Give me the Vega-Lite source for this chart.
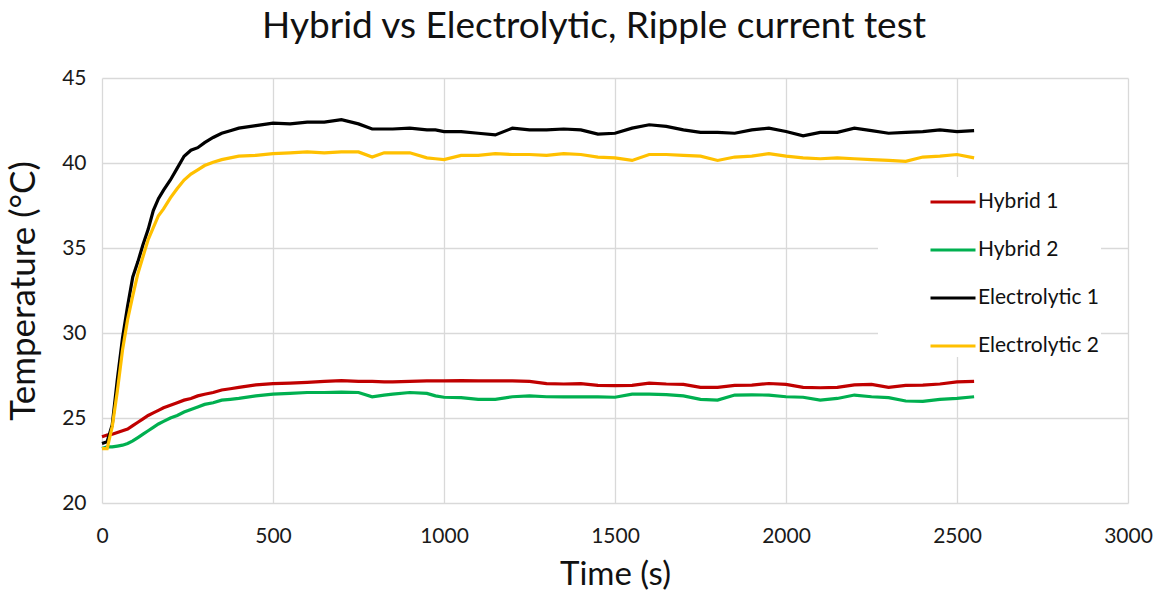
{
  "$schema": "https://vega.github.io/schema/vega-lite/v6.json",
  "autosize": "none",
  "padding": {"left": 102, "top": 78, "right": 35, "bottom": 104},
  "width": 1026,
  "height": 425,
  "background": "white",
  "title": {
    "text": "Hybrid vs Electrolytic, Ripple current test",
    "fontSize": 37,
    "font": "Lato",
    "fontWeight": "normal",
    "color": "#111111",
    "anchor": "middle",
    "baseline": "alphabetic",
    "offset": -8,
    "dx": -21
  },
  "config": {
    "font": "Lato",
    "view": {"stroke": null},
    "axis": {
      "gridColor": "#d9d9d9",
      "gridWidth": 1.3,
      "domain": false,
      "ticks": false,
      "labelFlush": false,
      "labelFontSize": 21,
      "labelColor": "#1a1a1a",
      "titleFontWeight": "normal",
      "titleColor": "#111111"
    },
    "legend": {
      "orient": "none",
      "legendX": 776,
      "legendY": 99,
      "fillColor": "white",
      "padding": 1,
      "symbolType": "stroke",
      "symbolSize": 2025,
      "symbolStrokeWidth": 3,
      "symbolOffset": 50,
      "labelFontSize": 21,
      "labelColor": "#111111",
      "labelOffset": 1,
      "rowPadding": 14
    }
  },
  "data": {
    "values": [
      {"t": 0, "Hybrid 1": 23.9, "Hybrid 2": 23.2, "Electrolytic 1": 23.5, "Electrolytic 2": 23.2},
      {"t": 15, "Hybrid 1": 24.0, "Hybrid 2": 23.3, "Electrolytic 1": 23.6, "Electrolytic 2": 23.2},
      {"t": 30, "Hybrid 1": 24.05, "Hybrid 2": 23.3, "Electrolytic 1": 24.6, "Electrolytic 2": 24.5},
      {"t": 45, "Hybrid 1": 24.15, "Hybrid 2": 23.35, "Electrolytic 1": 27.3, "Electrolytic 2": 26.6},
      {"t": 60, "Hybrid 1": 24.25, "Hybrid 2": 23.4, "Electrolytic 1": 29.7, "Electrolytic 2": 29.0},
      {"t": 75, "Hybrid 1": 24.35, "Hybrid 2": 23.5, "Electrolytic 1": 31.6, "Electrolytic 2": 30.8},
      {"t": 90, "Hybrid 1": 24.55, "Hybrid 2": 23.65, "Electrolytic 1": 33.3, "Electrolytic 2": 32.2},
      {"t": 105, "Hybrid 1": 24.75, "Hybrid 2": 23.85, "Electrolytic 1": 34.2, "Electrolytic 2": 33.5},
      {"t": 120, "Hybrid 1": 24.95, "Hybrid 2": 24.05, "Electrolytic 1": 35.2, "Electrolytic 2": 34.5},
      {"t": 135, "Hybrid 1": 25.15, "Hybrid 2": 24.25, "Electrolytic 1": 36.1, "Electrolytic 2": 35.5},
      {"t": 150, "Hybrid 1": 25.3, "Hybrid 2": 24.45, "Electrolytic 1": 37.2, "Electrolytic 2": 36.2},
      {"t": 165, "Hybrid 1": 25.45, "Hybrid 2": 24.65, "Electrolytic 1": 37.9, "Electrolytic 2": 36.9},
      {"t": 180, "Hybrid 1": 25.6, "Hybrid 2": 24.8, "Electrolytic 1": 38.4, "Electrolytic 2": 37.3},
      {"t": 200, "Hybrid 1": 25.75, "Hybrid 2": 25.0, "Electrolytic 1": 39.0, "Electrolytic 2": 37.95},
      {"t": 220, "Hybrid 1": 25.9, "Hybrid 2": 25.15, "Electrolytic 1": 39.7, "Electrolytic 2": 38.5},
      {"t": 240, "Hybrid 1": 26.05, "Hybrid 2": 25.35, "Electrolytic 1": 40.4, "Electrolytic 2": 39.0},
      {"t": 260, "Hybrid 1": 26.15, "Hybrid 2": 25.5, "Electrolytic 1": 40.75, "Electrolytic 2": 39.35},
      {"t": 280, "Hybrid 1": 26.3, "Hybrid 2": 25.65, "Electrolytic 1": 40.9, "Electrolytic 2": 39.6},
      {"t": 300, "Hybrid 1": 26.4, "Hybrid 2": 25.8, "Electrolytic 1": 41.2, "Electrolytic 2": 39.85},
      {"t": 325, "Hybrid 1": 26.5, "Hybrid 2": 25.9, "Electrolytic 1": 41.5, "Electrolytic 2": 40.05},
      {"t": 350, "Hybrid 1": 26.65, "Hybrid 2": 26.05, "Electrolytic 1": 41.75, "Electrolytic 2": 40.2},
      {"t": 375, "Hybrid 1": 26.72, "Hybrid 2": 26.1, "Electrolytic 1": 41.9, "Electrolytic 2": 40.3},
      {"t": 400, "Hybrid 1": 26.8, "Hybrid 2": 26.15, "Electrolytic 1": 42.05, "Electrolytic 2": 40.4},
      {"t": 450, "Hybrid 1": 26.95, "Hybrid 2": 26.3, "Electrolytic 1": 42.2, "Electrolytic 2": 40.45},
      {"t": 500, "Hybrid 1": 27.02, "Hybrid 2": 26.4, "Electrolytic 1": 42.35, "Electrolytic 2": 40.55},
      {"t": 550, "Hybrid 1": 27.05, "Hybrid 2": 26.45, "Electrolytic 1": 42.3, "Electrolytic 2": 40.6},
      {"t": 600, "Hybrid 1": 27.1, "Hybrid 2": 26.5, "Electrolytic 1": 42.4, "Electrolytic 2": 40.65},
      {"t": 650, "Hybrid 1": 27.15, "Hybrid 2": 26.5, "Electrolytic 1": 42.4, "Electrolytic 2": 40.6},
      {"t": 700, "Hybrid 1": 27.2, "Hybrid 2": 26.52, "Electrolytic 1": 42.55, "Electrolytic 2": 40.65},
      {"t": 750, "Hybrid 1": 27.15, "Hybrid 2": 26.5, "Electrolytic 1": 42.3, "Electrolytic 2": 40.65},
      {"t": 790, "Hybrid 1": 27.15, "Hybrid 2": 26.25, "Electrolytic 1": 42.0, "Electrolytic 2": 40.35},
      {"t": 825, "Hybrid 1": 27.12, "Hybrid 2": 26.35, "Electrolytic 1": 42.0, "Electrolytic 2": 40.6},
      {"t": 850, "Hybrid 1": 27.12, "Hybrid 2": 26.4, "Electrolytic 1": 42.0, "Electrolytic 2": 40.6},
      {"t": 900, "Hybrid 1": 27.15, "Hybrid 2": 26.5, "Electrolytic 1": 42.05, "Electrolytic 2": 40.6},
      {"t": 950, "Hybrid 1": 27.18, "Hybrid 2": 26.45, "Electrolytic 1": 41.95, "Electrolytic 2": 40.3},
      {"t": 975, "Hybrid 1": 27.18, "Hybrid 2": 26.3, "Electrolytic 1": 41.95, "Electrolytic 2": 40.25},
      {"t": 1000, "Hybrid 1": 27.18, "Hybrid 2": 26.22, "Electrolytic 1": 41.85, "Electrolytic 2": 40.2},
      {"t": 1050, "Hybrid 1": 27.2, "Hybrid 2": 26.2, "Electrolytic 1": 41.85, "Electrolytic 2": 40.45},
      {"t": 1100, "Hybrid 1": 27.18, "Hybrid 2": 26.1, "Electrolytic 1": 41.75, "Electrolytic 2": 40.45},
      {"t": 1150, "Hybrid 1": 27.18, "Hybrid 2": 26.1, "Electrolytic 1": 41.65, "Electrolytic 2": 40.55},
      {"t": 1200, "Hybrid 1": 27.18, "Hybrid 2": 26.25, "Electrolytic 1": 42.05, "Electrolytic 2": 40.5},
      {"t": 1250, "Hybrid 1": 27.15, "Hybrid 2": 26.3, "Electrolytic 1": 41.95, "Electrolytic 2": 40.5},
      {"t": 1300, "Hybrid 1": 27.02, "Hybrid 2": 26.25, "Electrolytic 1": 41.95, "Electrolytic 2": 40.45},
      {"t": 1350, "Hybrid 1": 27.0, "Hybrid 2": 26.24, "Electrolytic 1": 42.0, "Electrolytic 2": 40.55},
      {"t": 1400, "Hybrid 1": 27.02, "Hybrid 2": 26.24, "Electrolytic 1": 41.95, "Electrolytic 2": 40.5},
      {"t": 1450, "Hybrid 1": 26.92, "Hybrid 2": 26.24, "Electrolytic 1": 41.7, "Electrolytic 2": 40.35},
      {"t": 1500, "Hybrid 1": 26.9, "Hybrid 2": 26.22, "Electrolytic 1": 41.75, "Electrolytic 2": 40.3},
      {"t": 1550, "Hybrid 1": 26.92, "Hybrid 2": 26.4, "Electrolytic 1": 42.05, "Electrolytic 2": 40.15},
      {"t": 1600, "Hybrid 1": 27.05, "Hybrid 2": 26.4, "Electrolytic 1": 42.25, "Electrolytic 2": 40.5},
      {"t": 1650, "Hybrid 1": 27.0, "Hybrid 2": 26.38, "Electrolytic 1": 42.15, "Electrolytic 2": 40.5},
      {"t": 1700, "Hybrid 1": 26.98, "Hybrid 2": 26.3, "Electrolytic 1": 41.95, "Electrolytic 2": 40.45},
      {"t": 1750, "Hybrid 1": 26.8, "Hybrid 2": 26.1, "Electrolytic 1": 41.8, "Electrolytic 2": 40.4},
      {"t": 1800, "Hybrid 1": 26.8, "Hybrid 2": 26.05, "Electrolytic 1": 41.8, "Electrolytic 2": 40.15},
      {"t": 1850, "Hybrid 1": 26.92, "Hybrid 2": 26.35, "Electrolytic 1": 41.75, "Electrolytic 2": 40.35},
      {"t": 1900, "Hybrid 1": 26.93, "Hybrid 2": 26.36, "Electrolytic 1": 41.95, "Electrolytic 2": 40.4},
      {"t": 1950, "Hybrid 1": 27.03, "Hybrid 2": 26.35, "Electrolytic 1": 42.05, "Electrolytic 2": 40.55},
      {"t": 2000, "Hybrid 1": 26.98, "Hybrid 2": 26.25, "Electrolytic 1": 41.85, "Electrolytic 2": 40.4},
      {"t": 2050, "Hybrid 1": 26.8, "Hybrid 2": 26.22, "Electrolytic 1": 41.6, "Electrolytic 2": 40.3},
      {"t": 2100, "Hybrid 1": 26.78, "Hybrid 2": 26.05, "Electrolytic 1": 41.8, "Electrolytic 2": 40.25},
      {"t": 2150, "Hybrid 1": 26.8, "Hybrid 2": 26.15, "Electrolytic 1": 41.8, "Electrolytic 2": 40.3},
      {"t": 2200, "Hybrid 1": 26.95, "Hybrid 2": 26.35, "Electrolytic 1": 42.05, "Electrolytic 2": 40.25},
      {"t": 2250, "Hybrid 1": 26.98, "Hybrid 2": 26.25, "Electrolytic 1": 41.9, "Electrolytic 2": 40.2},
      {"t": 2300, "Hybrid 1": 26.8, "Hybrid 2": 26.2, "Electrolytic 1": 41.75, "Electrolytic 2": 40.15},
      {"t": 2350, "Hybrid 1": 26.92, "Hybrid 2": 26.0, "Electrolytic 1": 41.8, "Electrolytic 2": 40.1},
      {"t": 2400, "Hybrid 1": 26.93, "Hybrid 2": 25.98, "Electrolytic 1": 41.85, "Electrolytic 2": 40.35},
      {"t": 2450, "Hybrid 1": 27.0, "Hybrid 2": 26.1, "Electrolytic 1": 41.95, "Electrolytic 2": 40.4},
      {"t": 2500, "Hybrid 1": 27.12, "Hybrid 2": 26.15, "Electrolytic 1": 41.85, "Electrolytic 2": 40.5},
      {"t": 2550, "Hybrid 1": 27.15, "Hybrid 2": 26.25, "Electrolytic 1": 41.9, "Electrolytic 2": 40.3}
    ]
  },
  "transform": [
    {"fold": ["Hybrid 1", "Hybrid 2", "Electrolytic 1", "Electrolytic 2"], "as": ["series", "temp"]}
  ],
  "mark": {"type": "line", "strokeWidth": 3.2},
  "encoding": {
    "x": {
      "field": "t",
      "type": "quantitative",
      "scale": {"domain": [0, 3000], "nice": false},
      "axis": {"values": [0, 500, 1000, 1500, 2000, 2500, 3000], "format": "d", "title": "Time (s)", "titleFontSize": 33, "labelPadding": 22, "titlePadding": 12}
    },
    "y": {
      "field": "temp",
      "type": "quantitative",
      "scale": {"domain": [20, 45], "nice": false, "zero": false},
      "axis": {"values": [20, 25, 30, 35, 40, 45], "format": "d", "title": "Temperature (°C)", "titleFontSize": 35, "labelPadding": 16, "titlePadding": 20}
    },
    "color": {
      "field": "series",
      "type": "nominal",
      "scale": {
        "domain": ["Hybrid 1", "Hybrid 2", "Electrolytic 1", "Electrolytic 2"],
        "range": ["#C00000", "#00B050", "#000000", "#FFC000"]
      },
      "legend": {"title": null}
    }
  }
}
